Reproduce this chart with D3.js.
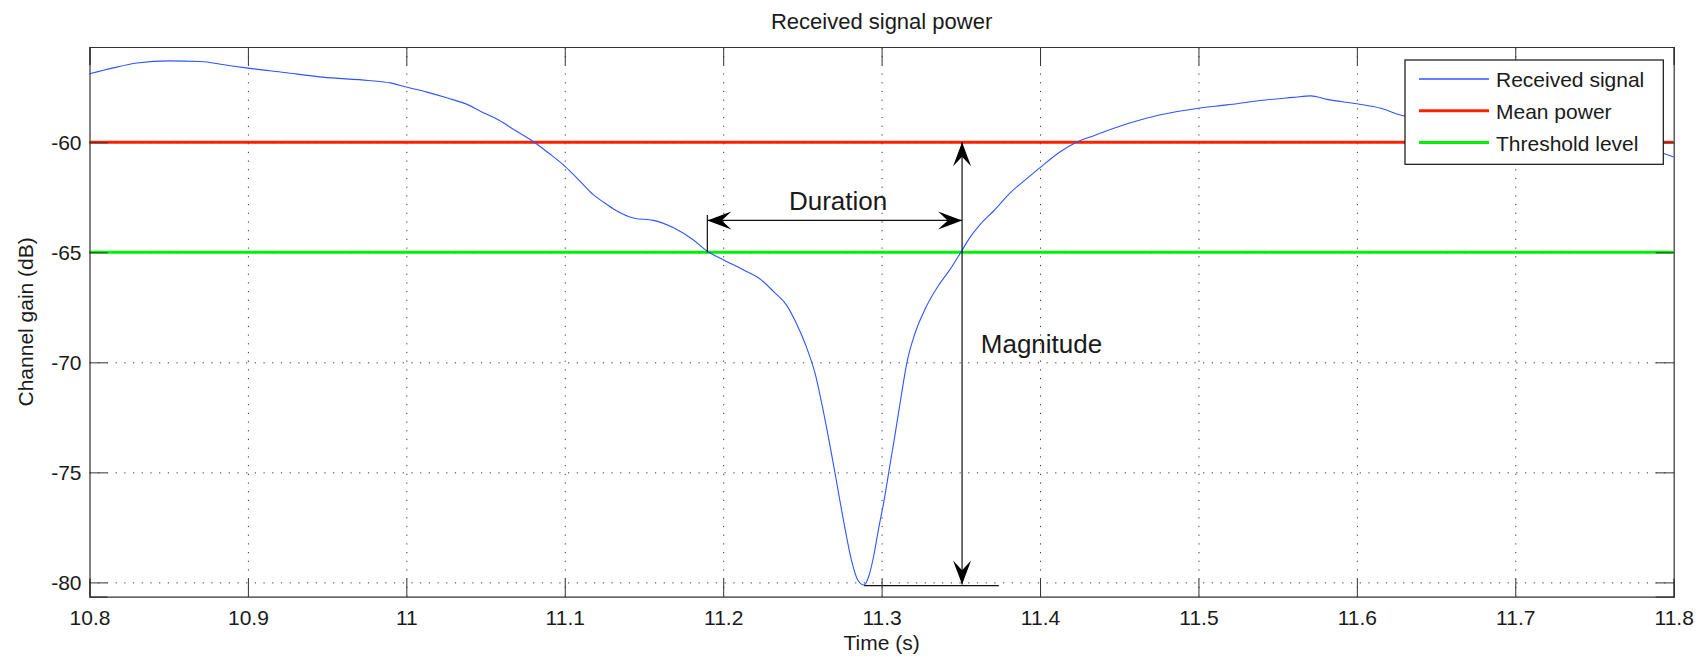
<!DOCTYPE html>
<html>
<head>
<meta charset="utf-8">
<script src="https://cdn.jsdelivr.net/npm/d3@7"></script>
<style>
    body { margin: 0; background: #fff; }
    text { font-family: "Liberation Sans", Arial, sans-serif; fill: #1a1a1a; }
    .grid line { stroke: #333; stroke-dasharray: 1.2, 7.5; }
    .grid path { display: none; }
    .frame line, .frame path { stroke: #333; }
</style>
</head>
<body>
<svg id="chart"></svg>
<script>
// received signal (time in s, gain in dB)
const signalTime = [10.800, 10.815, 10.830, 10.850, 10.870, 10.885, 10.900, 10.923, 10.947, 10.976,
    10.990, 11.000, 11.013, 11.026, 11.039, 11.047, 11.058, 11.068, 11.081, 11.090,
    11.100, 11.110, 11.118, 11.125, 11.131, 11.144, 11.156, 11.169, 11.181, 11.190,
    11.200, 11.212, 11.224, 11.232, 11.240, 11.246, 11.252, 11.258, 11.264, 11.270,
    11.276, 11.281, 11.285, 11.289, 11.292, 11.295, 11.298, 11.302, 11.3045, 11.308,
    11.312, 11.316, 11.321, 11.328, 11.336, 11.343, 11.350, 11.356, 11.362, 11.371,
    11.381, 11.392, 11.400, 11.413, 11.423, 11.434, 11.455, 11.476, 11.500, 11.518,
    11.539, 11.560, 11.571, 11.581, 11.600, 11.615, 11.627, 11.650, 11.700, 11.750,
    11.790, 11.800];
const signalGain = [-56.89, -56.62, -56.40, -56.30, -56.33, -56.48, -56.63, -56.83, -57.04, -57.19,
    -57.30, -57.49, -57.72, -57.99, -58.30, -58.60, -58.98, -59.43, -60.01, -60.50,
    -61.08, -61.80, -62.38, -62.75, -63.04, -63.45, -63.55, -63.90, -64.43, -64.95,
    -65.34, -65.77, -66.25, -66.80, -67.40, -68.20, -69.20, -70.50, -72.50, -74.80,
    -77.20, -79.00, -79.90, -80.12, -79.70, -78.80, -77.60, -76.10, -75.00, -73.50,
    -71.70, -70.00, -68.70, -67.50, -66.50, -65.80, -65.00, -64.30, -63.75, -63.10,
    -62.31, -61.63, -61.15, -60.42, -60.00, -59.70, -59.16, -58.75, -58.45, -58.30,
    -58.10, -57.96, -57.89, -58.05, -58.25, -58.45, -58.75, -59.10, -59.55, -59.95,
    -60.42, -60.67];

const meanPower = -60;
const thresholdLevel = -65;

const xTicks = [10.8, 10.9, 11, 11.1, 11.2, 11.3, 11.4, 11.5, 11.6, 11.7, 11.8];
const xTickLabels = ["10.8", "10.9", "11", "11.1", "11.2", "11.3", "11.4", "11.5", "11.6", "11.7", "11.8"];
const yTicks = [-80, -75, -70, -65, -60];
const yTickLabels = ["-80", "-75", "-70", "-65", "-60"];
const xDomain = [10.8, 11.8];
const yDomain = [-80.65, -55.67];

const legendLabels = ["Received signal", "Mean power", "Threshold level"];
const legendColors = ["#2f55ff", "#ff2000", "#00f000"];

// annotations (data units)
const durationSpan = [11.19, 11.3508];
const durationLevel = -63.55;
const durationTick = [-63.3, -65];
const magnitudeTime = 11.3508;
const magnitudeSpan = [-60, -80.1];
const magnitudeBase = [11.289, 11.374];
const magnitudeBaseLevel = -80.15;
const durationLabelPos = [11.2725, -63.07];
const magnitudeLabelPos = [11.3626, -69.58];

let margin = { top: 47, right: 30.3, bottom: 61.3, left: 89.5 },
    width = 1704 - margin.left - margin.right,
    height = 658 - margin.top - margin.bottom;

let svg = d3.select("#chart")
    .attr("width", 1704)
    .attr("height", 658);

let g = svg.append("g")
    .attr("transform", "translate(" + margin.left + "," + margin.top + ")");

const x = d3.scaleLinear().domain(xDomain).range([0, width]);
const y = d3.scaleLinear().domain(yDomain).range([height, 0]);

// dotted grid
g.append("g")
    .attr("class", "grid")
    .attr("transform", "translate(0," + height + ")")
    .call(d3.axisBottom(x).tickValues(xTicks.slice(1, -1)).tickSize(-height).tickFormat(""));
g.append("g")
    .attr("class", "grid")
    .call(d3.axisLeft(y).tickValues(yTicks).tickSize(-width).tickFormat(""));

g.append("defs").append("clipPath")
    .attr("id", "plot-clip")
    .append("rect")
    .attr("width", width)
    .attr("height", height);

const plot = g.append("g").attr("clip-path", "url(#plot-clip)");

// level lines
plot.append("line")
    .attr("x1", x(xDomain[0])).attr("x2", x(xDomain[1]))
    .attr("y1", y(meanPower)).attr("y2", y(meanPower))
    .attr("stroke", legendColors[1])
    .attr("stroke-width", 3);

plot.append("line")
    .attr("x1", x(xDomain[0])).attr("x2", x(xDomain[1]))
    .attr("y1", y(thresholdLevel)).attr("y2", y(thresholdLevel))
    .attr("stroke", legendColors[2])
    .attr("stroke-width", 3);

// signal
const signal = signalTime.map((t, i) => ({ t: t, v: signalGain[i] }));
const line = d3.line()
    .x(d => x(d.t))
    .y(d => y(d.v))
    .curve(d3.curveMonotoneX);

plot.append("path")
    .datum(signal)
    .attr("d", line)
    .attr("fill", "none")
    .attr("stroke", legendColors[0])
    .attr("stroke-width", 1.1);

// annotations
const ann = g.append("g").attr("stroke", "#111").attr("stroke-width", 1.2);

function arrowHead(px, py, angle) {
    // tip at (px, py), pointing along angle (deg)
    const L = 24, W = 18;
    g.append("path")
        .attr("d", "M0,0 L" + (-L) + "," + (-W / 2) + " L" + (-0.6 * L) + ",0 L" + (-L) + "," + (W / 2) + " Z")
        .attr("transform", "translate(" + px + "," + py + ") rotate(" + angle + ")")
        .attr("fill", "#000");
}

// duration
ann.append("line")
    .attr("x1", x(durationSpan[0])).attr("x2", x(durationSpan[0]))
    .attr("y1", y(durationTick[0])).attr("y2", y(durationTick[1]));
ann.append("line")
    .attr("x1", x(durationSpan[0])).attr("x2", x(durationSpan[1]))
    .attr("y1", y(durationLevel)).attr("y2", y(durationLevel));
arrowHead(x(durationSpan[0]), y(durationLevel), 180);
arrowHead(x(durationSpan[1]), y(durationLevel), 0);

// magnitude
ann.append("line")
    .attr("x1", x(magnitudeTime)).attr("x2", x(magnitudeTime))
    .attr("y1", y(magnitudeSpan[0])).attr("y2", y(magnitudeSpan[1]));
ann.append("line")
    .attr("x1", x(magnitudeBase[0])).attr("x2", x(magnitudeBase[1]))
    .attr("y1", y(magnitudeBaseLevel)).attr("y2", y(magnitudeBaseLevel));
arrowHead(x(magnitudeTime), y(magnitudeSpan[0]), -90);
arrowHead(x(magnitudeTime), y(magnitudeSpan[1]), 90);

g.append("text")
    .attr("x", x(durationLabelPos[0]))
    .attr("y", y(durationLabelPos[1]))
    .attr("text-anchor", "middle")
    .style("font-size", "26px")
    .text("Duration");

g.append("text")
    .attr("x", x(magnitudeLabelPos[0]))
    .attr("y", y(magnitudeLabelPos[1]))
    .style("font-size", "26px")
    .text("Magnitude");

// axes with ticks pointing inward
const xAxis = g.append("g")
    .attr("class", "frame")
    .attr("transform", "translate(0," + height + ")")
    .call(d3.axisBottom(x).tickValues(xTicks).tickSize(-18).tickPadding(13)
        .tickFormat((d, i) => xTickLabels[i]));
xAxis.selectAll("text").style("font-size", "21px").attr("fill", "#1a1a1a");

g.append("g")
    .attr("class", "frame")
    .call(d3.axisTop(x).tickValues(xTicks).tickSize(-18).tickFormat(""));

const yAxis = g.append("g")
    .attr("class", "frame")
    .call(d3.axisLeft(y).tickValues(yTicks).tickSize(-18).tickPadding(8)
        .tickFormat((d, i) => yTickLabels[i]));
yAxis.selectAll("text").style("font-size", "21px").attr("fill", "#1a1a1a");

g.append("g")
    .attr("class", "frame")
    .attr("transform", "translate(" + width + ",0)")
    .call(d3.axisRight(y).tickValues(yTicks).tickSize(-18).tickFormat(""));

g.selectAll(".frame .domain").attr("stroke-width", 1.2);

// legend
const legend = g.append("g").attr("transform", "translate(1315.5,13)");
legend.append("rect")
    .attr("width", 258.3)
    .attr("height", 104.3)
    .attr("fill", "#fff")
    .attr("stroke", "#111")
    .attr("stroke-width", 1.2);

legendLabels.forEach(function (name, i) {
    const ly = 19 + i * 31.8;
    legend.append("line")
        .attr("x1", 14).attr("x2", 84)
        .attr("y1", ly).attr("y2", ly)
        .attr("stroke", legendColors[i])
        .attr("stroke-width", i === 0 ? 1.3 : 3);
    legend.append("text")
        .attr("x", 91)
        .attr("y", ly + 8)
        .style("font-size", "21px")
        .text(name);
});

// titles
svg.append("text")
    .attr("x", margin.left + width / 2)
    .attr("y", 29)
    .attr("text-anchor", "middle")
    .style("font-size", "22px")
    .text("Received signal power");

svg.append("text")
    .attr("x", margin.left + width / 2)
    .attr("y", 650)
    .attr("text-anchor", "middle")
    .style("font-size", "21px")
    .text("Time (s)");

svg.append("text")
    .attr("transform", "translate(33," + (margin.top + height / 2) + ") rotate(-90)")
    .attr("text-anchor", "middle")
    .style("font-size", "21px")
    .text("Channel gain (dB)");
</script>
</body>
</html>
